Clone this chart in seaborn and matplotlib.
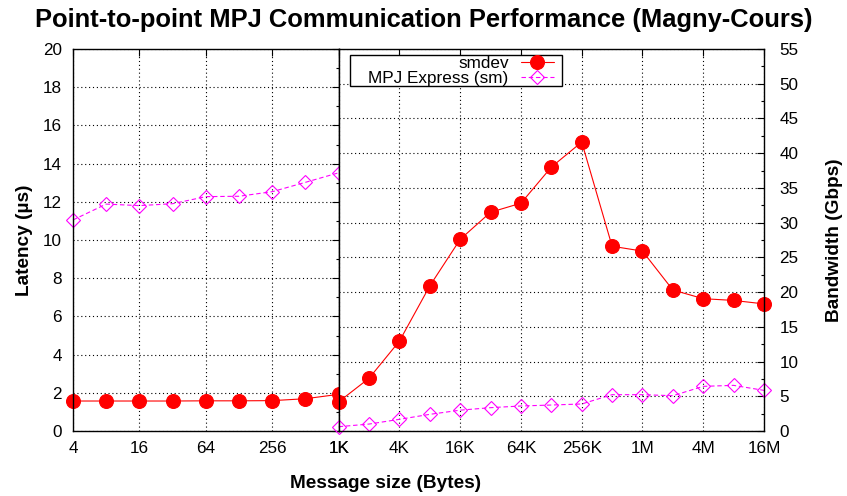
import numpy as np
import pandas as pd
import seaborn as sns
import matplotlib
matplotlib.use("Agg")
from matplotlib import pyplot as plt
from matplotlib.path import Path
from matplotlib.transforms import Affine2D
from matplotlib.ticker import FixedLocator, MultipleLocator, NullLocator

# message sizes (bytes) for the latency half and the bandwidth half
lat_sizes = [4, 8, 16, 32, 64, 128, 256, 512, 1024]
bw_sizes = [1024, 2048, 4096, 8192, 16384, 32768, 65536, 131072, 262144,
            524288, 1048576, 2097152, 4194304, 8388608, 16777216]

# latency (us)
lat_smdev = [1.57, 1.57, 1.57, 1.57, 1.58, 1.58, 1.59, 1.69, 1.92]
lat_mpj = [11.05, 11.88, 11.8, 11.9, 12.27, 12.29, 12.53, 13.02, 13.52]

# bandwidth (Gbps)
bw_smdev = [4.2, 7.6, 12.95, 20.9, 27.6, 31.5, 32.8, 38.0, 41.6,
            26.6, 25.9, 20.3, 19.05, 18.8, 18.3]
bw_mpj = [0.62, 1.0, 1.68, 2.4, 3.0, 3.36, 3.6, 3.74, 3.89,
          5.23, 5.23, 5.08, 6.43, 6.57, 5.85]

lat_ticks = [4, 16, 64, 256, 1024]
lat_ticklabels = ['4', '16', '64', '256', '1K']
bw_ticks = [1024, 4096, 16384, 65536, 262144, 1048576, 4194304, 16777216]
bw_ticklabels = ['1K', '4K', '16K', '64K', '256K', '1M', '4M', '16M']

sns.set_style("white")
plt.rcParams['font.family'] = ['Liberation Sans', 'DejaVu Sans']
plt.rcParams['text.color'] = 'black'
plt.rcParams['axes.labelcolor'] = 'black'
plt.rcParams['axes.linewidth'] = 1.0

fig = plt.figure(figsize=(8.47, 4.96), dpi=100)
bottom = 65 / 496
height = 382 / 496
ax_l = fig.add_axes([73 / 847, bottom, 265.7 / 847, height])
ax_r = fig.add_axes([338.7 / 847, bottom, 425.3 / 847, height])

df_lat = pd.DataFrame({'size': lat_sizes, 'smdev': lat_smdev, 'mpj': lat_mpj})
df_bw = pd.DataFrame({'size': bw_sizes, 'smdev': bw_smdev, 'mpj': bw_mpj})

red_kw = dict(color='#ff0000', marker='o', markersize=10, linewidth=0.8,
              markeredgecolor='#ff0000', markeredgewidth=0.8, clip_on=False)
mag_kw = dict(color='#ff00ff', marker='D', markersize=7, linewidth=0.8,
              linestyle=(0, (4, 2.5)), markerfacecolor='none',
              markeredgecolor='#ff00ff', markeredgewidth=0.8, clip_on=False)

TICK_FS = 12.3
LABEL_FS = 13.7

for ax, df in [(ax_l, df_lat), (ax_r, df_bw)]:
    ax.set_xscale('log', base=2)
    sns.lineplot(data=df, x='size', y='mpj', ax=ax, label='MPJ Express (sm)', **mag_kw)
    sns.lineplot(data=df, x='size', y='smdev', ax=ax, label='smdev', **red_kw)
    ax.set_xlabel('')
    ax.set_ylabel('')
    ax.set_axisbelow(True)
    ax.grid(True, which='major', color='black', linestyle=(0, (1, 2.5)), linewidth=0.8)
    ax.tick_params(which='both', direction='in', top=True, labelsize=TICK_FS,
                   colors='black')
    ax.tick_params(axis='x', pad=7)
    ax.tick_params(which='major', length=5, width=0.8)
    ax.tick_params(which='minor', length=2.5, width=0.8)
    ax.xaxis.set_minor_locator(NullLocator())
    for s in ax.spines.values():
        s.set_color('black')
        s.set_linewidth(1.0)

# latency half
ax_l.set_xlim(lat_sizes[0], lat_sizes[-1])
ax_l.set_ylim(0, 20)
ax_l.xaxis.set_major_locator(FixedLocator(lat_ticks))
ax_l.set_xticklabels(lat_ticklabels)
ax_l.yaxis.set_major_locator(MultipleLocator(2))
ax_l.yaxis.set_minor_locator(MultipleLocator(1))
ax_l.tick_params(axis='y', which='both', right=True, pad=8)
ax_l.set_ylabel('Latency (\u00b5s)', fontsize=LABEL_FS, fontweight='bold')
ax_l.yaxis.set_label_coords(-0.15, 0.5)
ax_l.get_legend().remove()

# bandwidth half
ax_r.set_xlim(bw_sizes[0], bw_sizes[-1])
ax_r.set_ylim(0, 55)
ax_r.xaxis.set_major_locator(FixedLocator(bw_ticks))
ax_r.set_xticklabels(bw_ticklabels)
ax_r.yaxis.set_major_locator(MultipleLocator(5))
ax_r.yaxis.set_minor_locator(MultipleLocator(2.5))
ax_r.yaxis.tick_right()
ax_r.yaxis.set_label_position('right')
ax_r.tick_params(axis='y', which='both', left=False, right=True, pad=11)
ax_r.set_ylabel('Bandwidth (Gbps)', fontsize=LABEL_FS, fontweight='bold')
ax_r.yaxis.set_label_coords(1.145, 0.5)


# gnuplot-like key box: wider padding on the left than elsewhere
def key_box(x0, y0, width, height, mutation_size):
    x0 -= 18
    width += 18 + 8
    return Path.unit_rectangle().transformed(
        Affine2D().scale(width, height).translate(x0, y0))


handles, labels = ax_r.get_legend_handles_labels()
order = [labels.index('smdev'), labels.index('MPJ Express (sm)')]
leg = ax_r.legend([handles[i] for i in order], [labels[i] for i in order],
                  loc='upper left', bbox_to_anchor=(0.069, 0.983), borderaxespad=0,
                  markerfirst=False, fancybox=False, framealpha=1, edgecolor='black',
                  fontsize=TICK_FS, borderpad=0.02, labelspacing=0.0,
                  handlelength=1.95, handletextpad=0.7)
leg.get_frame().set_boxstyle(key_box)
leg.get_frame().set_linewidth(1.0)

fig.suptitle('Point-to-point MPJ Communication Performance (Magny-Cours)',
             x=0.5, y=1 - 20 / 496, va='center', fontsize=18.4, fontweight='bold')
fig.text(386 / 847, 1 - 484 / 496, 'Message size (Bytes)', ha='center', va='center',
         fontsize=LABEL_FS, fontweight='bold')

fig.savefig('out.png', dpi=100)
